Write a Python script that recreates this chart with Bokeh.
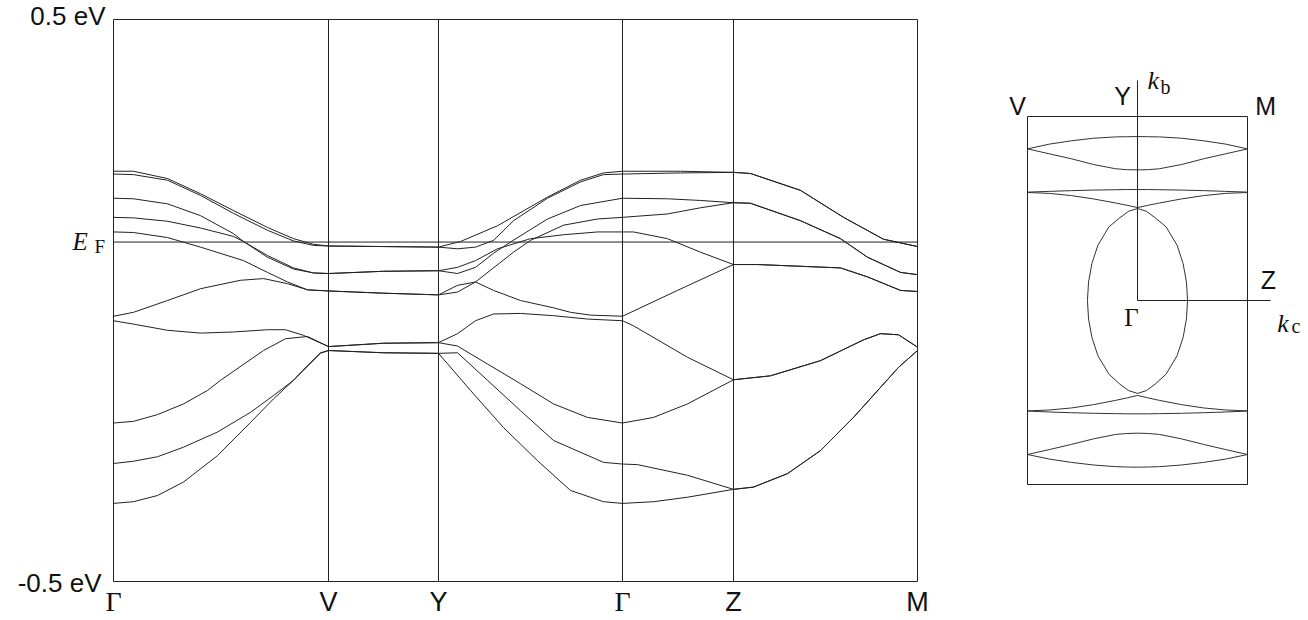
from bokeh.plotting import figure
from bokeh.models import Range1d
from bokeh.layouts import row
from bokeh.core.properties import value
from bokeh.embed import file_html
from bokeh.resources import INLINE

# ---------------- band structure data (k in path units, E in eV) ----------------
sym_k = [0.0, 2.15, 3.25, 5.09, 6.20, 8.04]
sym_labels = ["Γ", "V", "Y", "Γ", "Z", "M"]
E_F = 0.104
E_range = [-0.5, 0.5]
E_tick_labels = ["-0.5 eV", "0.5 eV"]

band1_k = [0, 0.20, 0.54, 0.87, 1.20, 1.54, 1.80, 2.00, 2.15, 2.70, 3.25, 3.47, 3.84, 4.34, 4.67, 4.90, 5.09, 5.67, 6.20, 6.37, 6.87, 7.30, 7.70, 8.04]
band1_E = [0.230, 0.230, 0.217, 0.190, 0.160, 0.130, 0.110, 0.100, 0.097, 0.096, 0.095, 0.105, 0.133, 0.184, 0.214, 0.227, 0.230, 0.230, 0.228, 0.226, 0.196, 0.148, 0.109, 0.096]

band2_k = [0, 0.20, 0.54, 0.87, 1.20, 1.54, 1.80, 2.00, 2.15, 2.70, 3.25, 3.44, 3.62, 3.80, 4.00, 4.34, 4.67, 4.90, 5.09, 5.67, 6.20, 6.37, 6.87, 7.30, 7.70, 8.04]
band2_E = [0.225, 0.224, 0.214, 0.187, 0.155, 0.125, 0.106, 0.098, 0.097, 0.096, 0.095, 0.092, 0.095, 0.107, 0.142, 0.182, 0.211, 0.224, 0.225, 0.227, 0.228, 0.226, 0.196, 0.148, 0.109, 0.096]

band3_k = [0, 0.20, 0.54, 0.87, 1.20, 1.30, 1.54, 1.80, 2.00, 2.15, 2.70, 3.25, 3.44, 3.62, 3.80, 3.97, 4.34, 4.67, 5.09, 5.54, 5.87, 6.20, 6.37, 6.87, 7.27, 7.54, 7.87, 8.04]
band3_E = [0.182, 0.181, 0.172, 0.151, 0.119, 0.105, 0.077, 0.056, 0.049, 0.048, 0.052, 0.053, 0.048, 0.059, 0.084, 0.104, 0.145, 0.169, 0.182, 0.181, 0.178, 0.174, 0.173, 0.142, 0.110, 0.077, 0.050, 0.046]

band4_k = [0, 0.20, 0.54, 0.87, 1.20, 1.30, 1.54, 1.80, 2.00, 2.15, 2.70, 3.25, 3.44, 3.62, 3.84, 4.17, 4.50, 4.84, 5.09, 5.20, 5.54, 5.87, 6.20, 6.44, 7.27, 7.54, 7.87, 8.04]
band4_E = [0.148, 0.147, 0.141, 0.129, 0.114, 0.105, 0.080, 0.058, 0.049, 0.048, 0.052, 0.053, 0.059, 0.071, 0.092, 0.110, 0.117, 0.122, 0.122, 0.122, 0.110, 0.086, 0.064, 0.064, 0.058, 0.042, 0.018, 0.016]

band5_k = [0, 0.20, 0.54, 0.87, 1.30, 1.54, 1.74, 1.94, 2.15, 2.70, 3.25, 3.44, 3.62, 4.00, 4.17, 4.50, 4.84, 5.09, 5.54, 5.87, 6.20, 6.37, 6.87, 7.27, 7.54, 7.87, 8.04]
band5_E = [0.122, 0.121, 0.112, 0.095, 0.071, 0.050, 0.033, 0.019, 0.017, 0.013, 0.010, 0.015, 0.033, 0.086, 0.107, 0.134, 0.145, 0.148, 0.154, 0.165, 0.174, 0.173, 0.142, 0.110, 0.077, 0.050, 0.046]

band6_k = [0, 0.20, 0.54, 0.87, 1.27, 1.50, 1.74, 1.94, 2.15, 2.70, 3.25, 3.44, 3.62, 3.80, 4.07, 4.40, 4.57, 4.77, 5.09, 5.64, 6.20, 6.44, 7.27, 7.54, 7.87, 8.04]
band6_E = [-0.028, -0.021, 0.000, 0.021, 0.036, 0.039, 0.030, 0.019, 0.017, 0.013, 0.010, 0.027, 0.033, 0.018, 0.000, -0.013, -0.021, -0.026, -0.028, 0.018, 0.064, 0.064, 0.058, 0.042, 0.018, 0.016]

band7_k = [0, 0.20, 0.54, 0.87, 1.20, 1.54, 1.72, 1.90, 2.15, 2.70, 3.25, 3.44, 3.62, 3.80, 4.07, 4.40, 4.74, 5.09, 5.20, 5.74, 6.20, 6.57, 7.07, 7.50, 7.67, 7.85, 8.04]
band7_E = [-0.036, -0.042, -0.053, -0.058, -0.056, -0.052, -0.052, -0.062, -0.082, -0.076, -0.075, -0.059, -0.036, -0.024, -0.023, -0.027, -0.033, -0.036, -0.045, -0.101, -0.141, -0.134, -0.107, -0.070, -0.059, -0.061, -0.083]

band8_k = [0, 0.20, 0.44, 0.70, 0.94, 1.07, 1.50, 1.72, 1.94, 2.15, 2.70, 3.25, 3.44, 3.74, 4.07, 4.40, 4.74, 5.09, 5.40, 5.74, 6.20, 6.57, 7.07, 7.50, 7.67, 7.85, 8.04]
band8_E = [-0.218, -0.215, -0.203, -0.184, -0.160, -0.142, -0.089, -0.068, -0.064, -0.082, -0.076, -0.075, -0.081, -0.113, -0.148, -0.184, -0.208, -0.218, -0.208, -0.184, -0.141, -0.134, -0.107, -0.070, -0.059, -0.061, -0.083]

band9_k = [0, 0.20, 0.44, 0.70, 1.04, 1.37, 1.60, 1.80, 1.89, 2.07, 2.15, 2.70, 3.25, 3.44, 3.74, 4.07, 4.40, 4.90, 5.09, 5.24, 5.74, 6.20, 6.40, 6.74, 7.07, 7.40, 7.85, 8.04]
band9_E = [-0.290, -0.286, -0.278, -0.261, -0.234, -0.199, -0.169, -0.142, -0.125, -0.093, -0.089, -0.093, -0.094, -0.093, -0.142, -0.196, -0.249, -0.288, -0.291, -0.292, -0.311, -0.336, -0.332, -0.308, -0.267, -0.208, -0.119, -0.089]

band10_k = [0, 0.20, 0.44, 0.70, 1.04, 1.37, 1.60, 1.80, 1.89, 2.07, 2.15, 2.70, 3.25, 3.57, 3.90, 4.24, 4.57, 4.90, 5.09, 5.40, 5.74, 6.20, 6.40, 6.74, 7.07, 7.40, 7.85, 8.04]
band10_E = [-0.361, -0.358, -0.347, -0.323, -0.276, -0.217, -0.175, -0.142, -0.126, -0.094, -0.089, -0.093, -0.094, -0.160, -0.226, -0.285, -0.338, -0.358, -0.361, -0.358, -0.350, -0.336, -0.332, -0.308, -0.267, -0.208, -0.119, -0.089]

bands_k = [band1_k, band2_k, band3_k, band4_k, band5_k, band6_k, band7_k, band8_k, band9_k, band10_k]
bands_E = [band1_E, band2_E, band3_E, band4_E, band5_E, band6_E, band7_E, band8_E, band9_E, band10_E]

# ---------------- Fermi surface data (kc horizontal, kb vertical) ----------------
fs_kc = [-1.0, -0.8, -0.6, -0.4, -0.2, -0.1, 0.0, 0.1, 0.2, 0.4, 0.6, 0.8, 1.0]
fs_top_lens_upper = [0.824, 0.850, 0.868, 0.882, 0.889, 0.890, 0.891, 0.890, 0.889, 0.882, 0.868, 0.850, 0.824]
fs_top_lens_lower = [0.824, 0.797, 0.770, 0.739, 0.716, 0.711, 0.710, 0.711, 0.716, 0.739, 0.770, 0.797, 0.824]
fs_top_cusp_line = [0.589, 0.593, 0.597, 0.600, 0.602, 0.603, 0.603, 0.603, 0.602, 0.600, 0.597, 0.593, 0.589]
fs_top_cusp_curve = [0.587, 0.582, 0.570, 0.552, 0.530, 0.518, 0.505, 0.518, 0.530, 0.552, 0.570, 0.582, 0.587]
fs_bot_cusp_line = [-0.601, -0.606, -0.610, -0.613, -0.615, -0.616, -0.616, -0.616, -0.615, -0.613, -0.610, -0.606, -0.601]
fs_bot_cusp_curve = [-0.600, -0.595, -0.584, -0.566, -0.543, -0.530, -0.516, -0.530, -0.543, -0.566, -0.584, -0.595, -0.600]
fs_bot_lens_upper = [-0.837, -0.810, -0.782, -0.752, -0.728, -0.723, -0.721, -0.723, -0.728, -0.752, -0.782, -0.810, -0.837]
fs_bot_lens_lower = [-0.837, -0.862, -0.880, -0.894, -0.903, -0.905, -0.906, -0.905, -0.903, -0.894, -0.880, -0.862, -0.837]

fs_oval_kc = [0.0, 0.08, 0.16, 0.26, 0.36, 0.415, 0.445, 0.455, 0.445, 0.415, 0.36, 0.26, 0.16, 0.08, 0.0,
              -0.08, -0.16, -0.26, -0.36, -0.415, -0.445, -0.455, -0.445, -0.415, -0.36, -0.26, -0.16, -0.08, 0.0]
fs_oval_kb = [0.50, 0.485, 0.45, 0.40, 0.30, 0.20, 0.10, 0.0, -0.10, -0.20, -0.30, -0.40, -0.455, -0.49, -0.505,
              -0.49, -0.455, -0.40, -0.30, -0.20, -0.10, 0.0, 0.10, 0.20, 0.30, 0.40, 0.45, 0.485, 0.50]

bz_kc = [-1.0, 1.0, 1.0, -1.0, -1.0]
bz_kb = [1.0, 1.0, -1.0, -1.0, 1.0]
axis_kb_top = 1.196
axis_kc_right = 1.21

bz_point_labels = ["V", "Y", "M", "Z"]
bz_point_kc = [-1.09, -0.136, 1.164, 1.19]
bz_point_kb = [1.057, 1.112, 1.057, 0.114]

LINE = "#222222"
TXT = "#111111"
SANS = "Liberation Sans"
SERIF = "Liberation Serif"

# ---------------- main band-structure figure (frame spans whole canvas) ----------------
p = figure(width=960, height=618, x_range=Range1d(-1.13, 8.47), y_range=Range1d(-0.5658, 0.5338),
           x_axis_type=None, y_axis_type=None, toolbar_location=None,
           output_backend="svg", title=None, min_border=0)
p.outline_line_color = None
p.background_fill_color = "white"
p.border_fill_color = "white"

k0, k1 = sym_k[0], sym_k[-1]
e0, e1 = E_range
# plot box
p.line([k0, k1, k1, k0, k0], [e0, e0, e1, e1, e0], line_color=LINE, line_width=1)
# symmetry lines
p.segment(x0=sym_k[1:-1], y0=[e0] * 4, x1=sym_k[1:-1], y1=[e1] * 4, line_color=LINE, line_width=1)
# Fermi level
p.line([k0, k1], [E_F, E_F], line_color=LINE, line_width=1)
# bands
p.multi_line(xs=bands_k, ys=bands_E, line_color=LINE, line_width=1)

# energy labels (screen offsets: positive y_offset moves down)
p.text(x=[k0], y=[e1], text=[E_tick_labels[1]], x_offset=-8, y_offset=-3,
       text_font=value(SANS), text_font_size="26px", text_align="right",
       text_baseline="middle", text_color=TXT)
p.text(x=[k0], y=[e0], text=[E_tick_labels[0]], x_offset=-12, y_offset=1,
       text_font=value(SANS), text_font_size="26px", text_align="right",
       text_baseline="middle", text_color=TXT)
# E_F label
p.text(x=[k0], y=[E_F], text=["E"], x_offset=-41, y_offset=-1, text_font=value(SERIF),
       text_font_style="italic", text_font_size="25px", text_align="left",
       text_baseline="middle", text_color=TXT)
p.text(x=[k0], y=[E_F], text=["F"], x_offset=-19, y_offset=4, text_font=value(SERIF),
       text_font_size="19px", text_align="left", text_baseline="middle", text_color=TXT)
# symmetry point labels
gam_k = [k for k, l in zip(sym_k, sym_labels) if l == "Γ"]
gam_l = [l for l in sym_labels if l == "Γ"]
oth_k = [k for k, l in zip(sym_k, sym_labels) if l != "Γ"]
oth_l = [l for l in sym_labels if l != "Γ"]
p.text(x=gam_k, y=[e0] * len(gam_k), text=gam_l, y_offset=20, text_font=value(SERIF),
       text_font_size="28px", text_align="center", text_baseline="middle", text_color=TXT)
p.text(x=oth_k, y=[e0] * len(oth_k), text=oth_l, y_offset=20, text_font=value(SANS),
       text_font_size="27px", text_align="center", text_baseline="middle", text_color=TXT)

# ---------------- Fermi surface figure ----------------
p2 = figure(width=340, height=618, x_range=Range1d(-1.6091, 1.4818), y_range=Range1d(-1.7283, 1.6304),
            x_axis_type=None, y_axis_type=None, toolbar_location=None, output_backend="svg",
            title=None, min_border=0)
p2.outline_line_color = None
p2.background_fill_color = "white"
p2.border_fill_color = "white"

p2.line(bz_kc, bz_kb, line_color=LINE, line_width=1)
p2.line([0, 0], [0, axis_kb_top], line_color=LINE, line_width=1)
p2.line([0, axis_kc_right], [0, 0], line_color=LINE, line_width=1)

fs_sheets = [fs_top_lens_upper, fs_top_lens_lower, fs_top_cusp_line, fs_top_cusp_curve,
             fs_bot_cusp_line, fs_bot_cusp_curve, fs_bot_lens_upper, fs_bot_lens_lower]
p2.multi_line(xs=[fs_kc] * len(fs_sheets), ys=fs_sheets, line_color="#333333", line_width=1)
p2.line(fs_oval_kc, fs_oval_kb, line_color="#333333", line_width=1)

p2.text(x=bz_point_kc, y=bz_point_kb, text=bz_point_labels, text_font=value(SANS),
        text_font_size="25px", text_align="center", text_baseline="middle", text_color=TXT)
p2.text(x=[-0.055], y=[-0.092], text=["Γ"], text_font=value(SERIF),
        text_font_size="25px", text_align="center", text_baseline="middle", text_color=TXT)
p2.text(x=[0.091, 1.27], y=[1.196, -0.126], text=["k", "k"], text_font=value(SERIF),
        text_font_style="italic", text_font_size="26px", text_align="left",
        text_baseline="middle", text_color=TXT)
p2.text(x=[0.209, 1.40], y=[1.158, -0.141], text=["b", "c"], text_font=value(SERIF),
        text_font_size="20px", text_align="left", text_baseline="middle", text_color=TXT)

layout = row(p, p2)
open("out.html", "w").write(file_html(layout, INLINE))
